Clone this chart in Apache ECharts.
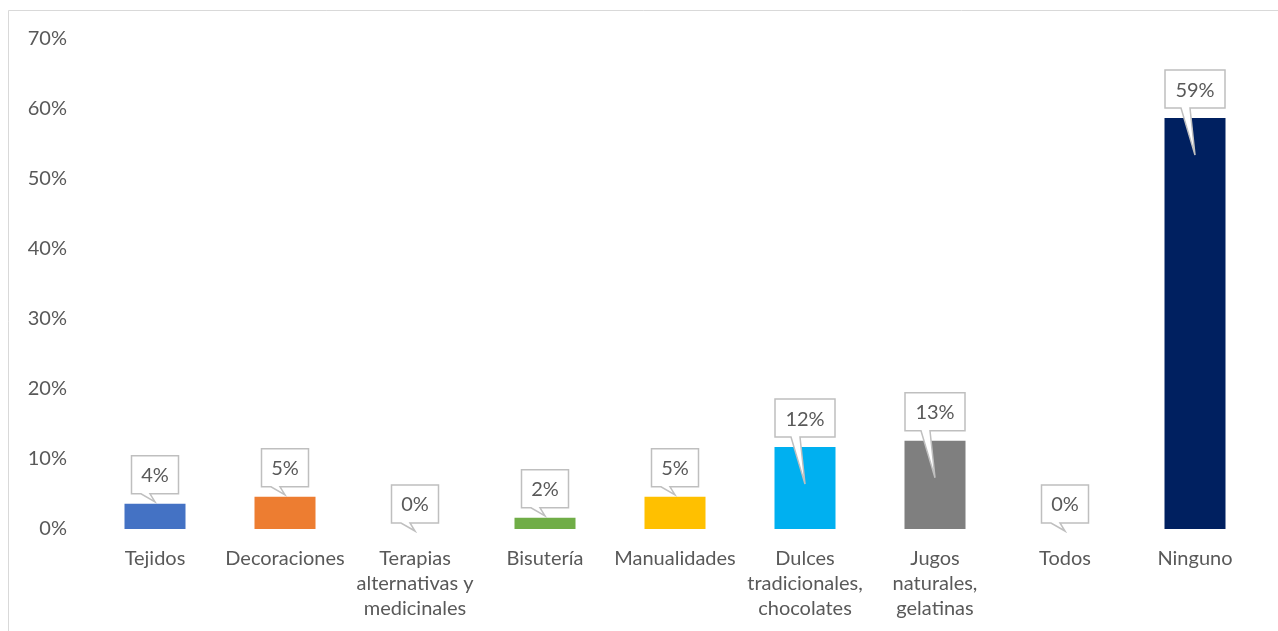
<!DOCTYPE html>
<html>
<head>
<meta charset="utf-8">
<script src="https://cdn.jsdelivr.net/npm/echarts@6/dist/echarts.min.js"></script>
<style>
  html, body { margin: 0; padding: 0; background: #ffffff; }
  #chart { width: 1278px; height: 631px; }
</style>
</head>
<body>
<div id="chart"></div>
<script>
// Actividades: share of respondents (percent)
const categories = [
  'Tejidos',
  'Decoraciones',
  'Terapias\nalternativas y\nmedicinales',
  'Bisutería',
  'Manualidades',
  'Dulces\ntradicionales,\nchocolates',
  'Jugos\nnaturales,\ngelatinas',
  'Todos',
  'Ninguno'
];
const values = [3.6, 4.6, 0, 1.6, 4.6, 11.7, 12.6, 0, 58.7];
const barColors = ['#4472C4', '#ED7D31', '#A5A5A5', '#70AD47', '#FFC000', '#00B0F0', '#7F7F7F', '#5B9BD5', '#002060'];
const yTicks = { min: 0, max: 70, step: 10 };

const FONT = 'Lato, "Open Sans", sans-serif';
const TEXT = '#595959';
const FONT_SIZE = 20;

const chart = echarts.init(document.getElementById('chart'), null, { renderer: 'canvas' });

// Speech-bubble label drawn above each bar, pointer aimed at the bar
function renderCallout(params, api) {
  const idx = api.value(0);
  const val = api.value(1);
  const top = api.coord([idx, val]);
  const zero = api.coord([idx, 0]);
  const cx = top[0];
  const barH = zero[1] - top[1];
  const text = Math.round(val) + '%';
  const w = text.length > 2 ? 60 : 47;
  const h = 38;
  const yb = top[1] - (val > 0 ? 10 : 6);
  const y0 = yb - h;
  const x0 = cx - w / 2;
  const x1 = cx + w / 2;
  const tipY = barH > 60 ? top[1] + 37 : top[1] + (val > 0 ? -2 : 2);
  return {
    type: 'group',
    children: [
      {
        type: 'polygon',
        shape: {
          points: [
            [x0, y0], [x1, y0], [x1, yb], [cx - 5, yb],
            [cx, tipY], [cx - 14, yb], [x0, yb]
          ]
        },
        style: { fill: '#ffffff', stroke: '#BFBFBF', lineWidth: 1.5 }
      },
      {
        type: 'text',
        style: {
          text: text,
          x: cx,
          y: (y0 + yb) / 2 + 1,
          align: 'center',
          verticalAlign: 'middle',
          fontSize: FONT_SIZE,
          fontFamily: FONT,
          fill: TEXT
        }
      }
    ]
  };
}

chart.setOption({
  animation: false,
  backgroundColor: '#ffffff',
  graphic: [{
    type: 'rect',
    shape: { x: 8.5, y: 10.5, width: 1300, height: 700 },
    style: { fill: 'none', stroke: '#D9D9D9', lineWidth: 1 },
    silent: true,
    z: -1
  }],
  grid: { left: 90, right: 18, top: 39, bottom: 102, containLabel: false },
  xAxis: {
    type: 'category',
    data: categories,
    axisLine: { show: false },
    axisTick: { show: false },
    axisLabel: {
      interval: 0,
      color: TEXT,
      fontSize: FONT_SIZE,
      fontFamily: FONT,
      lineHeight: 25,
      margin: 17
    }
  },
  yAxis: {
    type: 'value',
    min: yTicks.min,
    max: yTicks.max,
    interval: yTicks.step,
    splitLine: { show: false },
    axisLine: { show: false },
    axisTick: { show: false },
    axisLabel: {
      color: TEXT,
      fontSize: FONT_SIZE,
      fontFamily: FONT,
      margin: 23,
      formatter: '{value}%'
    }
  },
  series: [
    {
      type: 'bar',
      data: values.map((v, i) => ({ value: v, itemStyle: { color: barColors[i] } })),
      barWidth: 61
    },
    {
      type: 'custom',
      data: values.map((v, i) => [i, v]),
      renderItem: renderCallout,
      clip: false,
      z: 5
    }
  ]
});
</script>
</body>
</html>
